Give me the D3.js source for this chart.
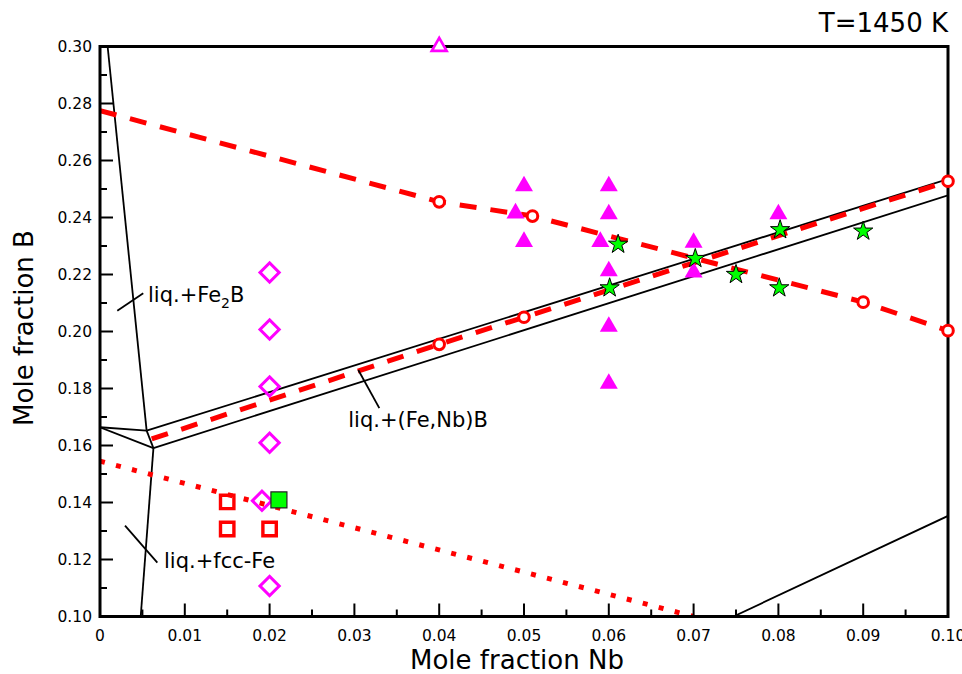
<!DOCTYPE html>
<html>
<head>
<meta charset="utf-8">
<script src="https://cdn.jsdelivr.net/npm/d3@7"></script>
<style>
  body { margin: 0; background: #fff; }
  svg { display: block; font-family: "DejaVu Sans", sans-serif; }
</style>
</head>
<body>
<svg id="chart" width="962" height="674"></svg>
<script>
// phase boundaries (Nb, B)
const fe2bBoundary = [[0.0009, 0.30], [0.0055, 0.1652]];
const fccBoundary = [[0.0063, 0.1591], [0.0048, 0.10]];
const eutecticLines = [
  [[0, 0.1664], [0.0055, 0.1652]],
  [[0, 0.1664], [0.0063, 0.1591]],
  [[0.0055, 0.1652], [0.0063, 0.1591]]
];
const bandUpper = [[0.0055, 0.1652], [0.1, 0.2535]];
const bandLower = [[0.0063, 0.1591], [0.1, 0.2478]];
const nbbBoundary = [[0.0747, 0.10], [0.1, 0.1353]];

// red model lines + circles
const upperDashed = [[0, 0.2775], [0.04, 0.2455], [0.051, 0.2405], [0.09, 0.2103], [0.1, 0.2003]];
const upperCircles = [[0.04, 0.2455], [0.051, 0.2405], [0.09, 0.2103], [0.1, 0.2003]];
const lowerDashed = [[0.0061, 0.1623], [0.04, 0.1955], [0.05, 0.205], [0.1, 0.2527]];
const lowerCircles = [[0.04, 0.1955], [0.05, 0.205], [0.1, 0.2527]];
const dottedLine = [[0, 0.1545], [0.070, 0.10]];

// experimental points
const openTriangles = [[0.04, 0.30]];
const filledTriangles = [
  [0.05, 0.251], [0.049, 0.2415], [0.05, 0.2315],
  [0.06, 0.251], [0.06, 0.2412], [0.059, 0.2315], [0.06, 0.2212], [0.06, 0.2017], [0.06, 0.1817],
  [0.07, 0.2312], [0.07, 0.2208], [0.08, 0.2412]
];
const diamonds = [[0.02, 0.2207], [0.02, 0.2007], [0.02, 0.1807], [0.02, 0.161], [0.0191, 0.1406], [0.02, 0.1107]];
const redSquares = [[0.015, 0.1402], [0.015, 0.1307], [0.02, 0.1307]];
const greenSquares = [[0.0211, 0.1409]];
const stars = [[0.0611, 0.2306], [0.0702, 0.2256], [0.0601, 0.2153], [0.075, 0.22], [0.0801, 0.2153], [0.0802, 0.2357], [0.09, 0.2352]];

// labels
const labels = [
  { text: "liq.+Fe", sub: "2", tail: "B", at: [0.00566, 0.2104], lead: [[0.00204, 0.2073], [0.0051, 0.2134]] },
  { text: "liq.+fcc-Fe", at: [0.00755, 0.1170], lead: [[0.00295, 0.1319], [0.00676, 0.1189]] },
  { text: "liq.+(Fe,Nb)B", at: [0.02928, 0.1666], lead: [[0.03046, 0.1865], [0.03294, 0.1731]] }
];

const xTicks = d3.range(0, 0.1001, 0.01);
const yTicks = d3.range(0.10, 0.3001, 0.02);

const svg = d3.select("#chart");
const x = d3.scaleLinear().domain([0, 0.1]).range([100, 948]);
const y = d3.scaleLinear().domain([0.1, 0.3]).range([616.5, 46.5]);

const line = d3.line().x(d => x(d[0])).y(d => y(d[1]));

svg.append("clipPath").attr("id", "plot-clip")
  .append("rect").attr("x", 100).attr("y", 46.5).attr("width", 848).attr("height", 570);

const plot = svg.append("g").attr("clip-path", "url(#plot-clip)");

// black boundaries
[fe2bBoundary, fccBoundary, bandUpper, bandLower, nbbBoundary, ...eutecticLines].forEach(seg => {
  plot.append("path").attr("d", line(seg))
    .attr("fill", "none").attr("stroke", "#000").attr("stroke-width", 1.8);
});

// red lines
plot.append("path").attr("d", line(upperDashed))
  .attr("fill", "none").attr("stroke", "#ff0000").attr("stroke-width", 5)
  .attr("stroke-dasharray", "17,14");
plot.append("path").attr("d", line(lowerDashed))
  .attr("fill", "none").attr("stroke", "#ff0000").attr("stroke-width", 5)
  .attr("stroke-dasharray", "17,14");
plot.append("path").attr("d", line(dottedLine))
  .attr("fill", "none").attr("stroke", "#ff0000").attr("stroke-width", 5)
  .attr("stroke-dasharray", "5,11.5");

// leader lines and labels
labels.forEach(l => {
  svg.append("path").attr("d", line(l.lead))
    .attr("stroke", "#000").attr("stroke-width", 1.8);
  const t = svg.append("text")
    .attr("x", x(l.at[0])).attr("y", y(l.at[1]))
    .attr("font-size", 21).attr("fill", "#000")
    .text(l.text);
  if (l.sub) {
    t.append("tspan").attr("font-size", 14).attr("dy", 6).text(l.sub);
    t.append("tspan").attr("dy", -6).text(l.tail);
  }
});

// frame
svg.append("rect").attr("x", 100).attr("y", 46.5).attr("width", 848).attr("height", 570)
  .attr("fill", "none").attr("stroke", "#000").attr("stroke-width", 3);

// ticks (inward)
d3.range(0, 0.1001, 0.005).forEach((v, i) => {
  svg.append("line")
    .attr("x1", x(v)).attr("x2", x(v))
    .attr("y1", 616.5).attr("y2", 616.5 - (i % 2 === 0 ? 13 : 7))
    .attr("stroke", "#000").attr("stroke-width", 2);
});
d3.range(0.10, 0.3001, 0.01).forEach((v, i) => {
  svg.append("line")
    .attr("x1", 100).attr("x2", 100 + (i % 2 === 0 ? 13 : 7))
    .attr("y1", y(v)).attr("y2", y(v))
    .attr("stroke", "#000").attr("stroke-width", 2);
});

svg.selectAll(".xlab").data(xTicks).join("text")
  .attr("x", d => x(d)).attr("y", 641)
  .attr("text-anchor", "middle").attr("font-size", 15.5)
  .text(d => d === 0 ? "0" : d.toFixed(2));
svg.selectAll(".ylab").data(yTicks).join("text")
  .attr("x", 92).attr("y", d => y(d) + 5.5)
  .attr("text-anchor", "end").attr("font-size", 15.5)
  .text(d => d.toFixed(2));

// axis titles
svg.append("text").attr("x", 517).attr("y", 669)
  .attr("text-anchor", "middle").attr("font-size", 26)
  .text("Mole fraction Nb");
svg.append("text")
  .attr("transform", "translate(33,328) rotate(-90)")
  .attr("text-anchor", "middle").attr("font-size", 26)
  .text("Mole fraction B");
svg.append("text").attr("x", 948).attr("y", 32)
  .attr("text-anchor", "end").attr("font-size", 26)
  .text("T=1450 K");

// markers
const pts = svg.append("g");
const sym = (type, size) => d3.symbol().type(type).size(size)();

pts.selectAll(".circ").data([...upperCircles, ...lowerCircles]).join("circle")
  .attr("cx", d => x(d[0])).attr("cy", d => y(d[1])).attr("r", 5.3)
  .attr("fill", "#fff").attr("stroke", "#ff0000").attr("stroke-width", 3);

pts.selectAll(".ftri").data(filledTriangles).join("path")
  .attr("d", sym(d3.symbolTriangle, 140))
  .attr("transform", d => `translate(${x(d[0])},${y(d[1])})`)
  .attr("fill", "#ff00ff");

pts.selectAll(".otri").data(openTriangles).join("path")
  .attr("d", sym(d3.symbolTriangle, 95))
  .attr("transform", d => `translate(${x(d[0])},${y(d[1])})`)
  .attr("fill", "#fff").attr("stroke", "#ff00ff").attr("stroke-width", 2.7);

pts.selectAll(".diam").data(diamonds).join("path")
  .attr("d", sym(d3.symbolSquare, 185))
  .attr("transform", d => `translate(${x(d[0])},${y(d[1])}) rotate(45)`)
  .attr("fill", "none").attr("stroke", "#ff00ff").attr("stroke-width", 3);

pts.selectAll(".rsq").data(redSquares).join("path")
  .attr("d", sym(d3.symbolSquare, 180))
  .attr("transform", d => `translate(${x(d[0])},${y(d[1])})`)
  .attr("fill", "none").attr("stroke", "#ff0000").attr("stroke-width", 3.4);

pts.selectAll(".gsq").data(greenSquares).join("path")
  .attr("d", sym(d3.symbolSquare, 256))
  .attr("transform", d => `translate(${x(d[0])},${y(d[1])})`)
  .attr("fill", "#00ff00").attr("stroke", "#222").attr("stroke-width", 1.2);

pts.selectAll(".star").data(stars).join("path")
  .attr("d", sym(d3.symbolStar, 115))
  .attr("transform", d => `translate(${x(d[0])},${y(d[1])})`)
  .attr("fill", "#00ff00").attr("stroke", "#000").attr("stroke-width", 1);
</script>
</body>
</html>
